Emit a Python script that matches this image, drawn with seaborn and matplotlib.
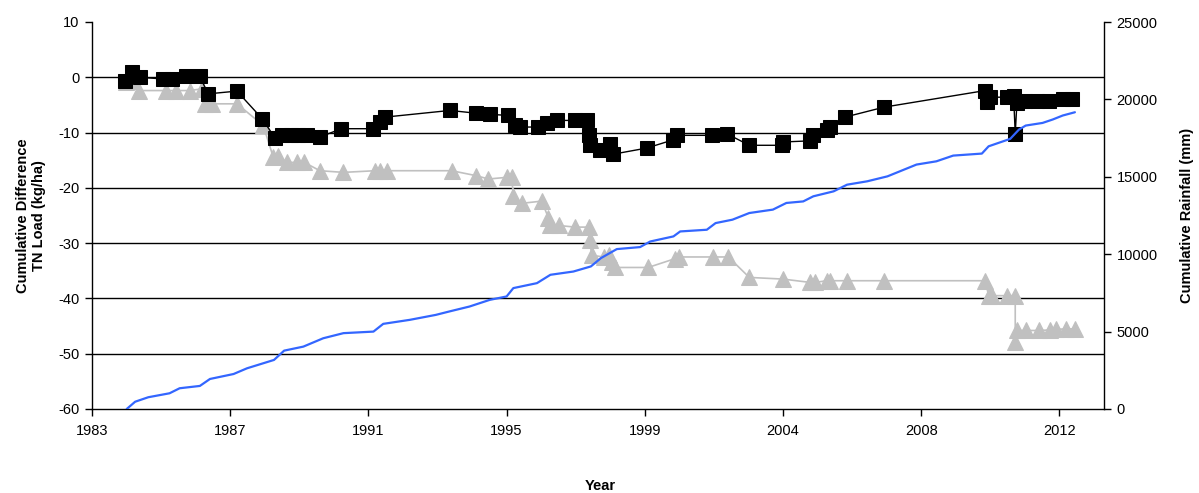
import matplotlib
matplotlib.use("Agg")
import matplotlib.pyplot as plt
import seaborn as sns
import numpy as np

# ---------------- data ----------------
x_black = [1984.48, 1984.68, 1984.92, 1985.6, 1985.86, 1986.3, 1986.7, 1986.94, 1987.8, 1988.55,
           1988.93, 1989.13, 1989.4, 1989.6, 1989.87, 1990.26, 1990.9, 1991.85, 1992.05, 1992.2,
           1994.12, 1994.9, 1995.3, 1995.85, 1996.05, 1996.2, 1996.74, 1996.99, 1997.29, 1997.83,
           1998.18, 1998.23, 1998.28, 1998.57, 1998.87, 1998.97, 1999.96, 2000.75, 2000.85, 2001.9,
           2002.33, 2003.0, 2003.96, 2004.0, 2004.8, 2004.9, 2005.3, 2005.38, 2005.84, 2007.0,
           2010.0, 2010.05, 2010.14, 2010.64, 2010.84, 2010.89, 2010.94, 2011.18, 2011.53, 2011.9,
           2012.3, 2012.57]
y_black = [-0.6, 0.9, 0.0, -0.3, -0.3, 0.2, 0.2, -3.0, -2.5, -7.5,
           -11.0, -10.5, -10.5, -10.5, -10.5, -10.8, -9.3, -9.3, -8.1, -7.2,
           -6.0, -6.5, -6.7, -6.9, -8.7, -9.0, -9.0, -8.3, -7.8, -7.8,
           -7.8, -10.5, -12.3, -13.2, -12.0, -13.9, -12.8, -11.3, -10.5, -10.5,
           -10.2, -12.3, -12.3, -11.7, -11.5, -10.5, -9.6, -9.0, -7.2, -5.4,
           -2.4, -4.5, -3.6, -3.6, -3.3, -10.2, -4.6, -4.3, -4.3, -4.3,
           -3.9, -4.0]

x_gray = [1984.5, 1984.7, 1984.9, 1985.7, 1986.0, 1986.4, 1986.75, 1986.85, 1987.05, 1987.8,
          1988.58, 1988.88, 1989.03, 1989.28, 1989.57, 1989.8, 1990.26, 1990.96, 1991.9, 1992.05,
          1992.25, 1994.17, 1994.9, 1995.26, 1995.8, 1995.95, 1996.0, 1996.25, 1996.84, 1997.04,
          1997.09, 1997.34, 1997.83, 1998.23, 1998.26, 1998.33, 1998.68, 1998.83, 1998.93, 1999.03,
          2000.0, 2000.8, 2000.9, 2001.93, 2002.38, 2003.0, 2004.0, 2004.8, 2004.95, 2005.3,
          2005.4, 2005.9, 2007.0, 2010.0, 2010.1, 2010.2, 2010.64, 2010.89, 2010.89, 2010.94,
          2011.2, 2011.58, 2011.93, 2012.1, 2012.4, 2012.65]
y_gray = [-0.9, -0.6, -2.4, -2.4, -2.4, -2.4, -2.1, -4.8, -4.8, -4.8,
          -8.7, -14.5, -14.2, -15.4, -15.4, -15.4, -16.9, -17.2, -16.9, -16.9,
          -16.9, -16.9, -17.8, -18.4, -18.1, -18.1, -21.4, -22.8, -22.4, -25.4,
          -26.8, -26.8, -27.1, -27.1, -29.5, -32.2, -32.5, -32.2, -33.5, -34.4,
          -34.4, -32.8, -32.5, -32.5, -32.5, -36.2, -36.5, -37.1, -37.1, -36.8,
          -36.8, -36.8, -36.8, -36.8, -39.5, -39.5, -39.5, -39.5, -47.9, -45.8,
          -45.8, -45.8, -45.7, -45.6, -45.5, -45.5]

x_rain = [1984.53, 1984.78, 1985.17, 1985.8, 1986.1, 1986.7, 1987.0, 1987.7, 1988.1, 1988.9,
          1989.2, 1989.77, 1990.36, 1990.96, 1991.85, 1992.14, 1992.93, 1993.7, 1994.1, 1994.7,
          1995.3, 1995.8, 1996.0, 1996.7, 1997.1, 1997.78, 1998.3, 1998.6, 1999.07, 1999.76,
          2000.06, 2000.75, 2000.95, 2001.74, 2002.0, 2002.5, 2003.0, 2003.7, 2004.1, 2004.6,
          2004.9, 2005.5, 2005.9, 2006.5, 2007.1, 2007.96, 2008.55, 2009.05, 2009.9, 2010.1,
          2010.74, 2011.0, 2011.2, 2011.7, 2012.0, 2012.3, 2012.66]
y_rain = [0, 470, 760, 1015, 1340, 1490, 1940, 2260, 2630, 3170,
          3770, 4030, 4570, 4900, 5000, 5500, 5760, 6080, 6300, 6620,
          7050, 7270, 7810, 8130, 8670, 8880, 9210, 9750, 10330, 10460,
          10820, 11150, 11470, 11580, 12010, 12230, 12660, 12880, 13310, 13410,
          13740, 14060, 14490, 14710, 15030, 15790, 16000, 16370, 16500, 16970,
          17450, 18050, 18310, 18480, 18700, 18960, 19170]

x_tick_labels = ["1983", "1987", "1991", "1995", "1999", "2004", "2008", "2012"]
left_ticks = [-60, -50, -40, -30, -20, -10, 0, 10]
right_ticks = [0, 5000, 10000, 15000, 20000, 25000]

# ---------------- styling ----------------
sns.set_style("white")
plt.rcParams['font.family'] = ['Liberation Sans', 'DejaVu Sans']
plt.rcParams['axes.unicode_minus'] = False
plt.rcParams['text.color'] = 'black'
plt.rcParams['axes.labelcolor'] = 'black'

W, H = 1199, 493
fig = plt.figure(figsize=(W / 100, H / 100), dpi=100)
L, R, T, B = 92, 1104, 22, 409
ax = fig.add_axes([L / W, 1 - B / H, (R - L) / W, (B - T) / H])

x0, step = 1983.5, 4.1
xmax = x0 + (R - L) / 138.2 * step

sns.lineplot(x=x_gray, y=y_gray, ax=ax, sort=False, estimator=None, color="#C0C0C0",
             linewidth=1.2, marker="^", markersize=11, markeredgecolor="#C0C0C0", zorder=3)
sns.lineplot(x=x_black, y=y_black, ax=ax, sort=False, estimator=None, color="black",
             linewidth=1.0, marker="s", markersize=9.5, markeredgecolor="black", zorder=4)

ax.set_xlim(x0, xmax)
ax.set_ylim(-60, 10)
ax.set_yticks(left_ticks)
ax.set_xticks([x0 + i * step for i in range(len(x_tick_labels))])
ax.set_xticklabels(x_tick_labels)
ax.yaxis.grid(True, color="black", linewidth=1.0)
ax.xaxis.grid(False)
ax.get_ygridlines()[-1].set_visible(False)
ax.get_ygridlines()[0].set_visible(False)
ax.set_axisbelow(True)
for s in ["left", "bottom"]:
    ax.spines[s].set_color("black")
    ax.spines[s].set_linewidth(1.0)
ax.spines["top"].set_visible(False)
ax.spines["right"].set_visible(False)
ax.tick_params(axis="both", direction="out", length=5, width=1, color="black",
               labelsize=10.5, labelcolor="black", left=True, bottom=True, pad=4)
ax.tick_params(axis="x", pad=6)

ax.set_ylabel("Cumulative Difference\nTN Load (kg/ha)", fontsize=10.5, fontweight="bold",
              color="black")
ax.yaxis.set_label_coords(-0.045, 0.5)
ax.set_xlabel("Year", fontsize=10.5, fontweight="bold", color="black")
ax.xaxis.set_label_coords(0.502, -0.18)

ax2 = ax.twinx()
sns.lineplot(x=x_rain, y=y_rain, ax=ax2, sort=False, estimator=None, color="#3366FF",
             linewidth=1.6)
ax2.set_ylim(0, 25000)
ax2.set_yticks(right_ticks)
ax2.set_xlim(x0, xmax)
ax2.grid(False)
for s in ["top", "left", "bottom"]:
    ax2.spines[s].set_visible(False)
ax2.spines["right"].set_color("black")
ax2.spines["right"].set_linewidth(1.0)
ax2.tick_params(axis="y", direction="out", length=5, width=1, color="black",
                labelsize=10.5, labelcolor="black", right=True, pad=4)
ax2.set_ylabel("Cumulative Rainfall (mm)", fontsize=10.5, fontweight="bold", color="black")
ax2.yaxis.set_label_coords(1.075, 0.5)

fig.savefig("out.png", dpi=100)
